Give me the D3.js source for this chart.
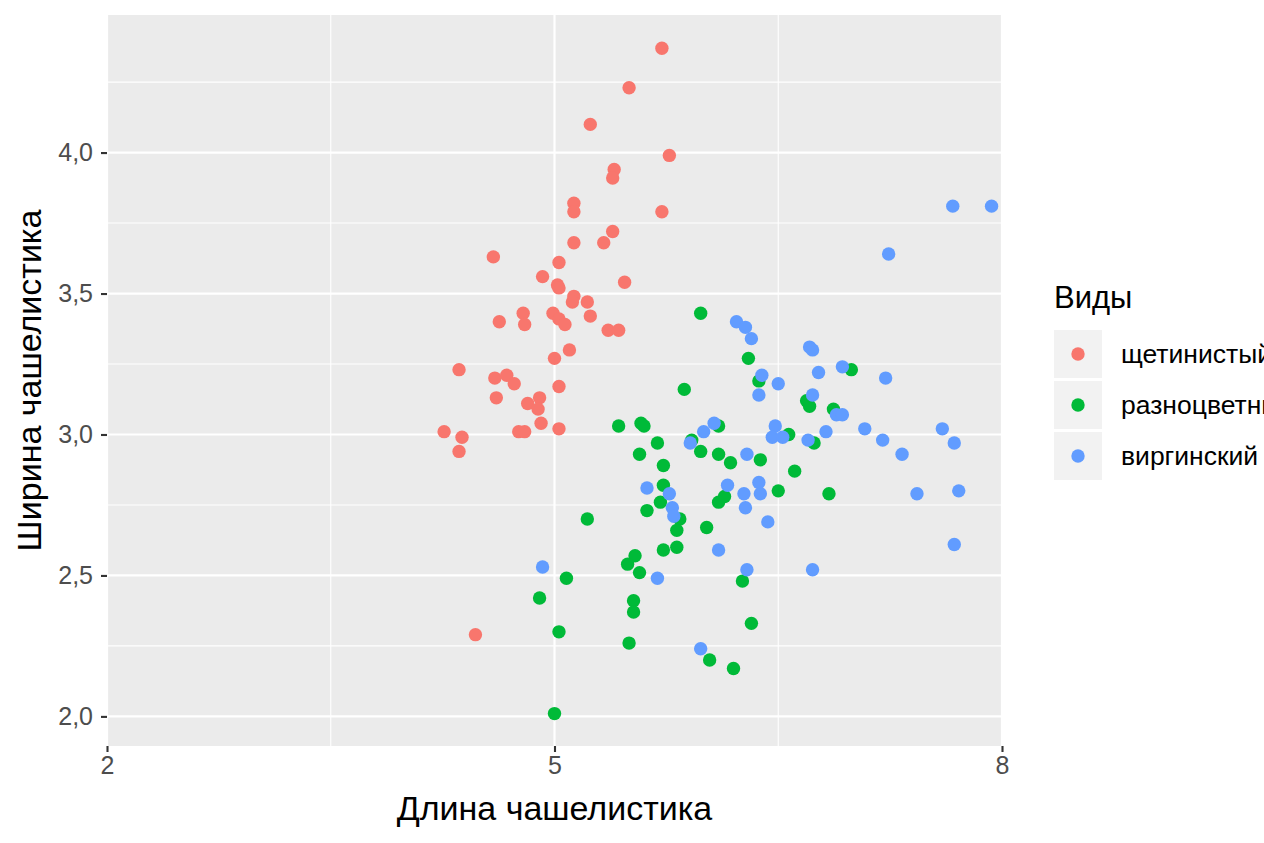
<!DOCTYPE html>
<html>
<head>
<meta charset="utf-8">
<script src="https://cdn.jsdelivr.net/npm/d3@7"></script>
<style>
  html, body { margin: 0; padding: 0; background: #fff; }
  svg { display: block; font-family: "Liberation Sans", Arial, sans-serif; }
</style>
</head>
<body>
<svg id="chart"></svg>
<script>
// Sepal length / width per species
const setosaX = [5.72, 5.50, 5.24, 5.77, 5.40, 5.39, 5.13, 5.13, 5.72, 5.39, 5.13, 5.33, 4.59, 5.03, 4.92, 5.02, 5.03,
  5.47, 5.13, 5.12, 5.22, 4.79, 4.99, 5.03, 5.07, 4.63, 4.80, 5.24, 5.36, 5.43, 5.10, 5.00, 4.36, 4.60, 4.68, 4.73,
  5.03, 4.61, 4.82, 4.90, 4.89, 4.91, 5.03, 4.26, 4.38, 4.76, 4.80, 4.36, 4.47];
const setosaY = [4.37, 4.23, 4.10, 3.99, 3.94, 3.91, 3.82, 3.79, 3.79, 3.72, 3.68, 3.68, 3.63, 3.61, 3.56, 3.53, 3.52,
  3.54, 3.49, 3.47, 3.47, 3.43, 3.43, 3.41, 3.39, 3.40, 3.39, 3.42, 3.37, 3.37, 3.30, 3.27, 3.23, 3.20, 3.21, 3.18,
  3.17, 3.13, 3.11, 3.13, 3.09, 3.04, 3.02, 3.01, 2.99, 3.01, 3.01, 2.94, 2.29];

const versicolorX = [5.43, 5.58, 5.60, 5.92, 5.98, 5.69, 5.57, 5.73, 5.73, 5.71, 5.62, 5.84, 5.82, 5.22, 5.73, 5.82, 5.54,
  5.49, 5.57, 5.08, 6.26, 4.90, 5.53, 5.53, 6.32, 5.03, 5.50, 6.04, 6.20, 5.00, 5.98, 6.30, 6.99, 6.37, 5.87, 6.69,
  6.71, 6.87, 6.10, 6.57, 6.74, 6.10, 6.18, 6.38, 6.61, 6.50, 6.84, 6.14, 6.10, 6.02];
const versicolorY = [3.03, 3.04, 3.03, 2.98, 2.94, 2.97, 2.93, 2.89, 2.82, 2.76, 2.73, 2.70, 2.66, 2.70, 2.59, 2.60, 2.57,
  2.54, 2.51, 2.49, 2.48, 2.42, 2.41, 2.37, 2.33, 2.30, 2.26, 2.20, 2.17, 2.01, 3.43, 3.27, 3.23, 3.19, 3.16, 3.12,
  3.10, 3.09, 3.03, 3.00, 2.97, 2.93, 2.90, 2.91, 2.87, 2.80, 2.79, 2.78, 2.76, 2.67];

const virginicaX = [4.92, 5.69, 6.29, 5.98, 5.91, 5.62, 5.77, 5.79, 5.80, 6.22, 6.28, 6.32, 6.71, 6.73, 6.93, 6.77, 6.39,
  6.50, 6.37, 6.73, 6.89, 6.93, 6.07, 6.00, 6.48, 6.46, 6.53, 6.82, 6.70, 6.29, 6.16, 6.37, 6.38, 6.27, 6.28, 6.43,
  6.10, 6.73, 7.67, 7.93, 7.24, 7.22, 7.08, 7.20, 7.33, 7.60, 7.68, 7.43, 7.71, 7.68];
const virginicaY = [2.53, 2.49, 2.52, 2.24, 2.97, 2.81, 2.79, 2.74, 2.71, 3.40, 3.38, 3.34, 3.31, 3.30, 3.24, 3.22, 3.21,
  3.18, 3.14, 3.14, 3.07, 3.07, 3.04, 3.01, 3.03, 2.99, 2.99, 3.01, 2.98, 2.93, 2.82, 2.83, 2.79, 2.79, 2.74, 2.69,
  2.59, 2.52, 3.81, 3.81, 3.64, 3.20, 3.02, 2.98, 2.93, 3.02, 2.97, 2.79, 2.80, 2.61];

const speciesNames = ['щетинистый', 'разноцветный', 'виргинский'];
const speciesColors = ['#F8766D', '#00BA38', '#619CFF'];
const xTicks = [2, 5, 8];
const xMinor = [3.5, 6.5];
const yTicks = [2.0, 2.5, 3.0, 3.5, 4.0];
const yMinor = [2.25, 2.75, 3.25, 3.75, 4.25];

const series = [
  { xs: setosaX, ys: setosaY },
  { xs: versicolorX, ys: versicolorY },
  { xs: virginicaX, ys: virginicaY }
];

const W = 1264, H = 843;
const panel = { left: 107, right: 1002, top: 15, bottom: 746 };
const r = 6.7;

const svg = d3.select('#chart').attr('width', W).attr('height', H);
svg.append('rect').attr('width', W).attr('height', H).attr('fill', '#fff');

const xScale = d3.scaleLinear().domain([2, 8]).range([panel.left, panel.right]);
const yScale = d3.scaleLinear().domain([1.895, 4.488]).range([panel.bottom, panel.top]);
const fmt = d3.formatLocale({ decimal: ',', thousands: ' ', grouping: [3], currency: ['', ''] }).format('.1f');

// Panel background
svg.append('rect')
  .attr('x', panel.left).attr('y', panel.top)
  .attr('width', panel.right - panel.left).attr('height', panel.bottom - panel.top)
  .attr('fill', '#EBEBEB');

// Grid lines
const grid = svg.append('g');
grid.selectAll('.ym').data(yMinor).join('line')
  .attr('x1', panel.left).attr('x2', panel.right)
  .attr('y1', d => yScale(d)).attr('y2', d => yScale(d))
  .attr('stroke', '#fff').attr('stroke-width', 1.1);
grid.selectAll('.xm').data(xMinor).join('line')
  .attr('y1', panel.top).attr('y2', panel.bottom)
  .attr('x1', d => xScale(d)).attr('x2', d => xScale(d))
  .attr('stroke', '#fff').attr('stroke-width', 1.1);
grid.selectAll('.yM').data(yTicks).join('line')
  .attr('x1', panel.left).attr('x2', panel.right)
  .attr('y1', d => yScale(d)).attr('y2', d => yScale(d))
  .attr('stroke', '#fff').attr('stroke-width', 2.2);
grid.selectAll('.xM').data(xTicks).join('line')
  .attr('y1', panel.top).attr('y2', panel.bottom)
  .attr('x1', d => xScale(d)).attr('x2', d => xScale(d))
  .attr('stroke', '#fff').attr('stroke-width', 2.2);

// Points
series.forEach((s, i) => {
  svg.append('g').selectAll('circle')
    .data(s.xs.map((x, j) => [x, s.ys[j]]))
    .join('circle')
    .attr('cx', d => xScale(d[0]))
    .attr('cy', d => yScale(d[1]))
    .attr('r', r)
    .attr('fill', speciesColors[i]);
});

// X axis
const xAxis = svg.append('g')
  .attr('transform', `translate(0,${panel.bottom})`)
  .call(d3.axisBottom(xScale).tickValues(xTicks).tickSize(6).tickPadding(4).tickFormat(d3.format('d')));
xAxis.select('.domain').remove();
xAxis.selectAll('line').attr('stroke', '#333').attr('stroke-width', 2.1);
xAxis.selectAll('text').style('font-size', '25px').attr('fill', '#4D4D4D').attr('font-family', null);

// Y axis
const yAxis = svg.append('g')
  .attr('transform', `translate(${panel.left},0)`)
  .call(d3.axisLeft(yScale).tickValues(yTicks).tickSize(6).tickPadding(8).tickFormat(fmt));
yAxis.select('.domain').remove();
yAxis.selectAll('line').attr('stroke', '#333').attr('stroke-width', 2.1);
yAxis.selectAll('text').style('font-size', '25px').attr('fill', '#4D4D4D').attr('font-family', null);

// Axis titles
svg.append('text')
  .attr('x', (panel.left + panel.right) / 2).attr('y', 820)
  .attr('text-anchor', 'middle')
  .style('font-size', '34px').attr('fill', '#000')
  .text('Длина чашелистика');
svg.append('text')
  .attr('transform', `translate(41,${(panel.top + panel.bottom) / 2}) rotate(-90)`)
  .attr('text-anchor', 'middle')
  .style('font-size', '34px').attr('fill', '#000')
  .text('Ширина чашелистика');

// Legend
const legend = svg.append('g').attr('transform', 'translate(1054,0)');
legend.append('text')
  .attr('x', 0).attr('y', 308)
  .style('font-size', '31px').attr('fill', '#000')
  .text('Виды');
const keys = legend.selectAll('g.key').data(speciesNames).join('g')
  .attr('class', 'key')
  .attr('transform', (d, i) => `translate(0,${330 + i * 51})`);
keys.append('rect').attr('width', 48).attr('height', 48).attr('fill', '#F2F2F2');
keys.append('circle').attr('cx', 24).attr('cy', 24).attr('r', r)
  .attr('fill', (d, i) => speciesColors[i]);
keys.append('text')
  .attr('x', 67).attr('y', 24).attr('dy', '0.35em')
  .style('font-size', '26.5px').attr('fill', '#000')
  .text(d => d);
</script>
</body>
</html>
